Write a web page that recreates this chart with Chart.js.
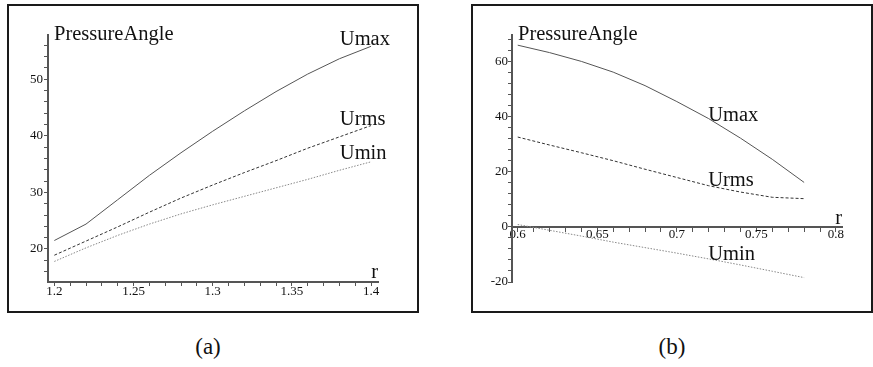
<!DOCTYPE html>
<html>
<head>
<meta charset="utf-8">
<script src="https://cdn.jsdelivr.net/npm/chart.js@4.4.1/dist/chart.umd.min.js"></script>
<style>
  body { margin: 0; width: 873px; height: 367px; overflow: hidden; background: #fff; position: relative; font-family: "Liberation Serif", serif; }
  .frame { position: absolute; box-sizing: border-box; border: 2px solid #1a1a1a; }
  canvas { position: absolute; top: 0; }
  .cap { position: absolute; top: 334px; width: 60px; margin-left: -30px; text-align: center; font-size: 23px; color: #111; }
</style>
</head>
<body>
<div class="frame" style="left:7px;top:4px;width:412px;height:309px"></div>
<div class="frame" style="left:471px;top:4px;width:402px;height:309px"></div>
<canvas id="chartA" width="440" height="320" style="left:0"></canvas>
<canvas id="chartB" width="433" height="320" style="left:440px"></canvas>
<div class="cap" style="left:208px">(a)</div>
<div class="cap" style="left:672px">(b)</div>
<script>
// panel (a)
const rA = [1.20, 1.22, 1.24, 1.26, 1.28, 1.30, 1.32, 1.34, 1.36, 1.38, 1.40];
const umaxA = [21.5, 24.4, 28.7, 33.0, 37.0, 40.8, 44.4, 47.8, 50.9, 53.6, 55.8];
const urmsA = [18.9, 21.4, 23.9, 26.5, 29.0, 31.3, 33.5, 35.6, 37.8, 39.8, 41.8];
const uminA = [17.8, 20.2, 22.4, 24.4, 26.2, 27.8, 29.3, 30.8, 32.3, 33.9, 35.4];
const xLabelsA = [1.2, 1.25, 1.3, 1.35, 1.4];
const yLabelsA = [20, 30, 40, 50];

// panel (b)
const rB = [0.60, 0.62, 0.64, 0.66, 0.68, 0.70, 0.72, 0.74, 0.76, 0.78];
const umaxB = [66.1, 63.4, 60.2, 56.3, 51.4, 45.6, 39.4, 32.3, 24.6, 16.2];
const urmsB = [32.7, 29.8, 27.0, 24.1, 21.0, 18.0, 15.0, 12.7, 10.8, 10.3];
const uminB = [0.9, -1.2, -3.3, -5.5, -7.5, -9.5, -11.6, -13.8, -16.1, -18.4];
const xLabelsB = [0.6, 0.65, 0.7, 0.75, 0.8];
const yLabelsB = [-20, 0, 20, 40, 60];

const seriesNames = ['Umax', 'Urms', 'Umin'];

const serif = '"Liberation Serif"';

function pts(xs, ys) {
  return xs.map((x, i) => ({ x: x, y: ys[i] }));
}

function tickRange(from, to, step) {
  const out = [];
  const n = Math.round((to - from) / step);
  for (let i = 0; i <= n; i++) out.push(+(from + i * step).toFixed(4));
  return out;
}

function axis(min, max, step, majors, labelPad, extra) {
  const from = Math.ceil(min / step - 1e-9) * step;
  const to = Math.floor(max / step + 1e-9) * step;
  return Object.assign({
    type: 'linear',
    min: min,
    max: max,
    afterBuildTicks: s => { s.ticks = tickRange(from, to, step).map(v => ({ value: v })); },
    ticks: {
      autoSkip: false,
      maxRotation: 0,
      padding: labelPad,
      color: '#111',
      font: { family: serif, size: 13 },
      callback: v => majors.some(m => Math.abs(m - v) < 1e-6) ? String(+v.toFixed(2)) : ''
    },
    grid: { drawOnChartArea: false, tickLength: 4, color: '#555', lineWidth: 1 },
    border: { color: '#555', width: 2 }
  }, extra);
}

function datasets(xs, a, b, c) {
  const styles = [
    { borderColor: '#555', borderDash: [] },
    { borderColor: '#333', borderDash: [3, 2] },
    { borderColor: '#888', borderDash: [1.5, 1.5] }
  ];
  return [a, b, c].map((ys, i) => ({
    label: seriesNames[i],
    data: pts(xs, ys),
    borderColor: styles[i].borderColor,
    borderDash: styles[i].borderDash,
    borderWidth: 1,
    pointRadius: 0,
    tension: 0,
    fill: false
  }));
}

// text on the plot: axis names and curve names
function annotate(curveLabels, rTitleOffset) {
  return {
    id: 'annotate',
    afterDraw(chart) {
      const ctx = chart.ctx;
      const xs = chart.scales.x, ys = chart.scales.y;
      const area = chart.chartArea;
      ctx.save();
      ctx.fillStyle = '#111';
      ctx.font = '20.5px ' + serif;
      ctx.textBaseline = 'alphabetic';
      ctx.textAlign = 'left';
      ctx.fillText('PressureAngle', area.left + 6, area.top + 5);
      curveLabels.forEach(l => {
        ctx.fillText(l.text, xs.getPixelForValue(l.r), ys.getPixelForValue(l.v));
      });
      ctx.textAlign = 'right';
      const axisY = chart.options.scales.x.position === 'bottom' ? area.bottom : ys.getPixelForValue(0);
      ctx.fillText('r', area.right, axisY - rTitleOffset);
      ctx.restore();
    }
  };
}

function build() {
  new Chart(document.getElementById('chartA'), {
    type: 'line',
    data: { datasets: datasets(rA, umaxA, urmsA, uminA) },
    options: {
      responsive: false,
      animation: false,
      layout: { padding: { top: 35, right: 62, bottom: 0, left: 0 } },
      plugins: { legend: { display: false }, tooltip: { enabled: false } },
      scales: {
        x: axis(1.196, 1.4044, 0.01, xLabelsA, -2, { position: 'bottom', afterFit: s => { s.height = 38; } }),
        y: axis(14.17, 57.8, 2, yLabelsA, 1, { position: 'left', afterFit: s => { s.width = 48; } })
      }
    },
    plugins: [annotate([
      { text: 'Umax', r: 1.3803, v: 56.0 },
      { text: 'Urms', r: 1.3803, v: 41.9 },
      { text: 'Umin', r: 1.3803, v: 35.85 }
    ], 4)]
  });

  new Chart(document.getElementById('chartB'), {
    type: 'line',
    data: { datasets: datasets(rB, umaxB, urmsB, uminB) },
    options: {
      responsive: false,
      animation: false,
      layout: { padding: { top: 35, right: 31, bottom: 38, left: 0 } },
      plugins: { legend: { display: false }, tooltip: { enabled: false } },
      scales: {
        x: axis(0.5964, 0.8038, 0.01, xLabelsB, -4, { position: { y: 0 }, afterFit: s => { s.height = 0; } }),
        y: axis(-20, 69.8, 4, yLabelsB, 0, { position: 'left', afterFit: s => { s.width = 72; } })
      }
    },
    plugins: [annotate([
      { text: 'Umax', r: 0.7197, v: 38.5 },
      { text: 'Urms', r: 0.7197, v: 14.9 },
      { text: 'Umin', r: 0.7197, v: -12.1 }
    ], 3)]
  });
}

// make sure the serif face is ready before the canvases draw text
Promise.all([
  document.fonts.load('13px ' + serif),
  document.fonts.load('20px ' + serif)
]).catch(() => {}).then(build);
</script>
</body>
</html>
